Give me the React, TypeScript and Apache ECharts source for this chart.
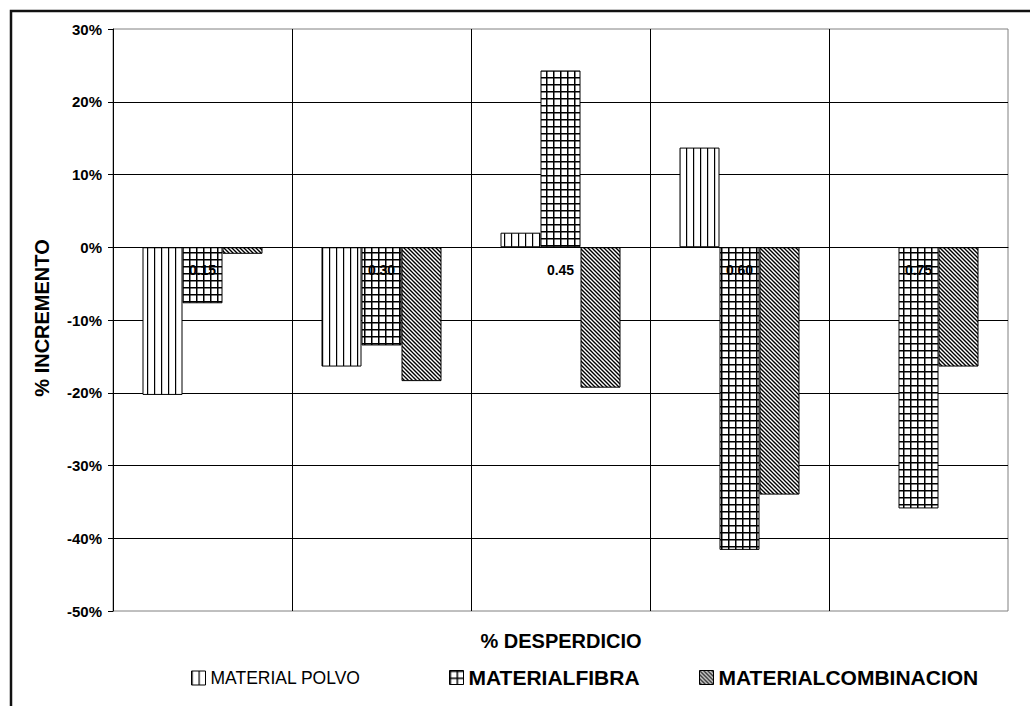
import React, { useEffect, useRef } from 'react';
import * as echarts from 'echarts';

const categories = ['0.15', '0.30', '0.45', '0.60', '0.75'];
const seriesNames = ['MATERIAL POLVO', 'MATERIALFIBRA', 'MATERIALCOMBINACION'];
const materialPolvo = [-20.3, -16.4, 2.0, 13.7, null];
const materialFibra = [-7.7, -13.5, 24.3, -41.6, -35.9];
const materialCombinacion = [-0.9, -18.4, -19.3, -34.0, -16.4];
const yMin = -50;
const yMax = 30;
const yInterval = 10;
const xTitle = '% DESPERDICIO';
const yTitle = '% INCREMENTO';

const FONT = '"Liberation Sans", Arial, sans-serif';
const GRID_TOP = 29;
const GRID_BOTTOM = 95;
const HEIGHT = 706;

function makePattern(kind: string) {
  const c = document.createElement('canvas');
  let w = 7;
  let h = 7;
  if (kind === 'diag') { w = 8; h = 8; }
  c.width = w;
  c.height = h;
  const ctx = c.getContext('2d')!;
  ctx.fillStyle = '#fff';
  ctx.fillRect(0, 0, w, h);
  ctx.fillStyle = '#000';
  if (kind === 'vert') {
    ctx.fillRect(0, 0, 1.2, h);
  } else if (kind === 'grid') {
    ctx.fillRect(0, 0, 1.5, h);
    ctx.fillRect(0, 0, w, 1.5);
  } else {
    ctx.strokeStyle = '#000';
    ctx.lineWidth = 1.35;
    for (let k = -12; k <= 12; k += 4) {
      ctx.beginPath();
      ctx.moveTo(-2, -2 + k);
      ctx.lineTo(w + 2, w + 2 + k);
      ctx.stroke();
    }
  }
  return { image: c, repeat: 'repeat', imageWidth: w, imageHeight: h } as any;
}

export default function App() {
  const ref = useRef<HTMLDivElement>(null);
  useEffect(() => {
    if (!ref.current) return;
    const chart = echarts.init(ref.current, null, { renderer: 'svg' });
    const patterns = [makePattern('vert'), makePattern('grid'), makePattern('diag')];
    const dataSets = [materialPolvo, materialFibra, materialCombinacion];
    const plotH = HEIGHT - GRID_TOP - GRID_BOTTOM;
    // place the category axis on the zero line of the value axis
    const zeroOffset = -((0 - yMin) / (yMax - yMin)) * plotH;
    const legendPos = [
      { left: 191, top: 669, fontSize: 17.5, fontWeight: 'normal' },
      { left: 449, top: 667, fontSize: 21, fontWeight: 'bold' },
      { left: 699, top: 667, fontSize: 21, fontWeight: 'bold' },
    ];
    chart.setOption({
      animation: false,
      backgroundColor: '#fff',
      textStyle: { fontFamily: FONT, color: '#000' },
      grid: {
        left: 113, right: 22, top: GRID_TOP, bottom: GRID_BOTTOM,
        show: true, borderColor: '#808080', borderWidth: 1, backgroundColor: 'transparent',
      },
      legend: seriesNames.map((n, i) => ({
        data: [n],
        left: legendPos[i].left,
        top: legendPos[i].top,
        padding: 0,
        itemWidth: 14,
        itemHeight: 14,
        icon: 'rect',
        selectedMode: false,
        itemStyle: { borderColor: '#000', borderWidth: 1 },
        textStyle: {
          fontFamily: FONT,
          fontSize: legendPos[i].fontSize,
          fontWeight: legendPos[i].fontWeight,
          color: '#000',
        },
      })),
      xAxis: [
        {
          type: 'category',
          data: categories,
          axisLine: { show: false },
          axisTick: { show: false },
          axisLabel: { show: false },
          splitLine: { show: true, showMinLine: false, showMaxLine: false, lineStyle: { color: '#000', width: 1 } },
        },
        {
          type: 'category',
          data: categories,
          position: 'bottom',
          offset: zeroOffset,
          z: 10,
          axisLine: { show: true, onZero: false, lineStyle: { color: '#000', width: 1 } },
          axisTick: { show: false },
          axisLabel: { fontFamily: FONT, fontSize: 14, fontWeight: 'bold', color: '#000', margin: 16 },
          splitLine: { show: false },
        },
      ],
      yAxis: {
        type: 'value',
        min: yMin,
        max: yMax,
        interval: yInterval,
        axisLine: { show: true, lineStyle: { color: '#000', width: 1 } },
        axisTick: { show: true, inside: false, length: 5, lineStyle: { color: '#000' } },
        axisLabel: {
          fontFamily: FONT, fontSize: 15, fontWeight: 'bold', color: '#000', margin: 11,
          formatter: (v: number) => `${v}%`,
        },
        splitLine: { show: true, showMinLine: false, showMaxLine: false, lineStyle: { color: '#000', width: 1 } },
      },
      series: seriesNames.map((n, i) => ({
        name: n,
        type: 'bar',
        xAxisIndex: 0,
        data: dataSets[i],
        barWidth: 40,
        barGap: '0%',
        itemStyle: { color: patterns[i], borderColor: '#000', borderWidth: 1 },
      })),
      graphic: [
        {
          type: 'rect',
          shape: { x: 11, y: 11, width: 1200, height: 900 },
          style: { fill: 'none', stroke: '#111', lineWidth: 2.5 },
          silent: true,
        },
        {
          type: 'text',
          x: 561,
          y: 641,
          style: {
            text: xTitle, fontFamily: FONT, fontSize: 20, fontWeight: 'bold', fill: '#000',
            align: 'center', verticalAlign: 'middle',
          },
        },
        {
          type: 'text',
          x: 42,
          y: 318,
          rotation: Math.PI / 2,
          style: {
            text: yTitle, fontFamily: FONT, fontSize: 20, fontWeight: 'bold', fill: '#000',
            align: 'center', verticalAlign: 'middle',
          },
        },
      ],
    });
    return () => chart.dispose();
  }, []);
  return (
    <div
      ref={ref}
      style={{ position: 'fixed', left: 0, top: 0, width: 1030, height: 706, background: '#fff' }}
    />
  );
}
